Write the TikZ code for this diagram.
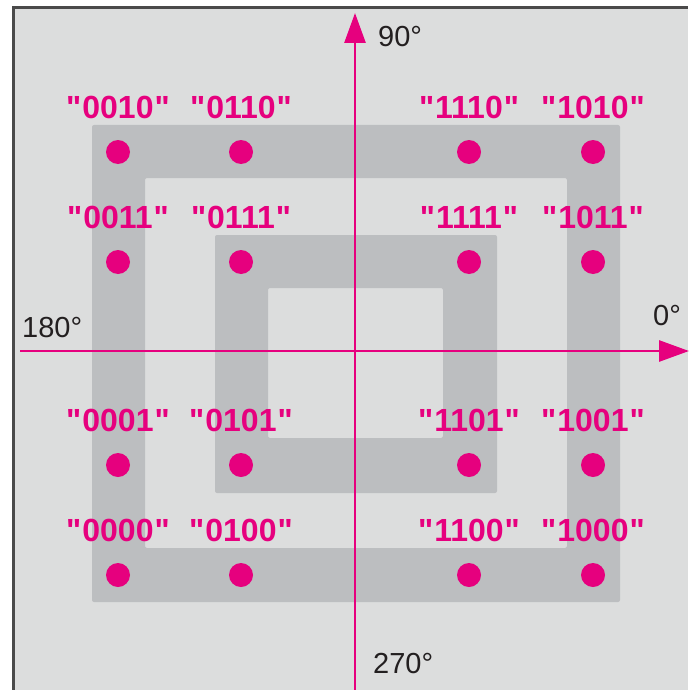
\documentclass[tikz,border=0pt]{standalone}
\usepackage{fontspec}
\setmainfont{Liberation Sans}
\newfontfamily\codefont{Liberation Sans}
\usetikzlibrary{arrows.meta}
\definecolor{bg}{HTML}{DCDDDD}
\definecolor{ring}{HTML}{BCBEC0}
\definecolor{mag}{HTML}{E6007E}
\definecolor{txt}{HTML}{231F20}
\definecolor{frame}{HTML}{4A4A4A}
\tikzset{
  dot/.style={circle,fill=mag,inner sep=0pt,minimum size=24pt},
  code/.style={text=mag,font=\codefont\fontsize{32}{32}\selectfont\bfseries,inner sep=0pt},
  deg/.style={text=txt,font=\fontsize{29}{29}\selectfont,inner sep=0pt},
  axis/.style={draw=mag,line width=2.8pt,-{Triangle[length=30pt,width=21pt]}},
}
\begin{document}
\begin{tikzpicture}[x=1pt,y=-1pt]
\useasboundingbox (0,0) rectangle (688,690);
\fill[white] (0,0) rectangle (688,690);
\fill[bg] (13,8) rectangle (688,690);
\draw[frame,line width=3pt] (13,690) -- (13,8) -- (688,8);
% rings
\fill[ring,even odd rule,rounded corners=2pt] (92,125) rectangle (620,602) (145,178) rectangle (567,548);
\fill[ring,even odd rule,rounded corners=2pt] (215,235) rectangle (497,493) (268,288) rectangle (443,438);
% axes
\coordinate (vb) at (355,690);
\coordinate (vt) at (355,13);
\coordinate (hl) at (20,351);
\coordinate (hr) at (689,351);
\draw[axis] (vb) -- (vt);
\draw[axis] (hl) -- (hr);
\node[deg,anchor=west] (d90) at (378,37) {90°};
\node[deg,anchor=west] (d0) at (653,316) {0°};
\node[deg,anchor=west] (d180) at (22,328) {180°};
\node[deg,anchor=west] (d270) at (373,664) {270°};
% dots and labels
\foreach \n/\x/\y in {
  0010/118/152, 0110/241/152, 1110/469/152, 1010/593/152,
  0011/118/262, 0111/241/262, 1111/469/262, 1011/593/262,
  0001/118/465, 0101/241/465, 1101/469/465, 1001/593/465,
  0000/118/575, 0100/241/575, 1100/469/575, 1000/593/575}{
  \node[dot] (p\n) at (\x,\y) {};
  \node[code] (l\n) at (\x,\y-45) {"\kern1pt\n\kern1pt"};
}
\end{tikzpicture}
\end{document}
